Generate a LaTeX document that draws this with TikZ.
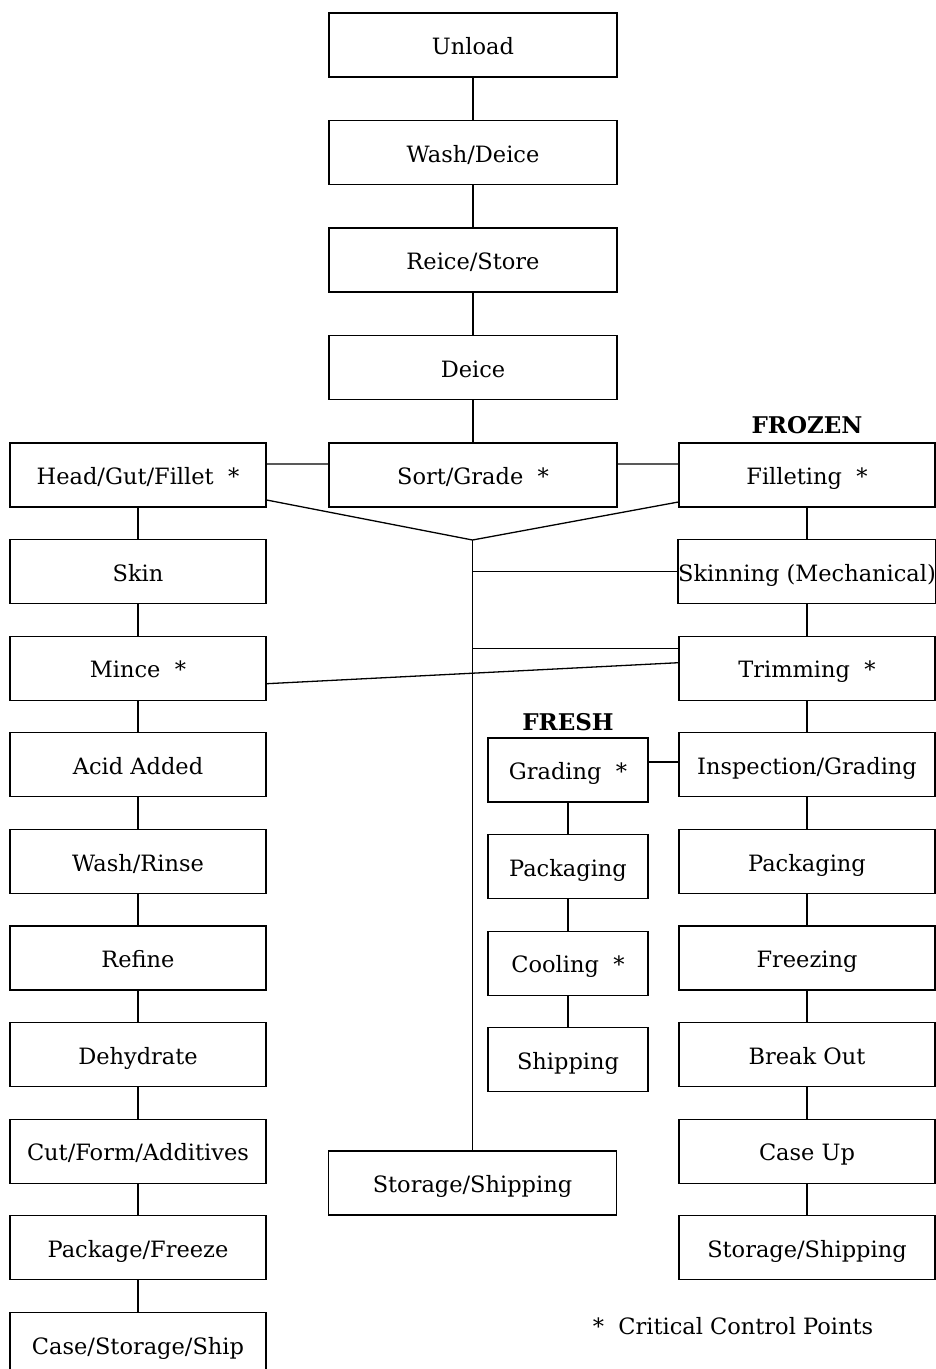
\documentclass[tikz,border=0pt]{standalone}
\usepackage{fontspec}
\setmainfont{DejaVu Serif}
\usetikzlibrary{positioning, calc}

\begin{document}
\begin{tikzpicture}[x=1pt, y=-1pt, node distance=31.3pt,
    font=\fontsize{22.5}{26}\selectfont,
    box/.style={draw, line width=1.3pt, minimum height=64pt, inner sep=0pt,
        text height=24pt, text depth=4.5pt},
    side/.style={box, minimum width=256pt},
    main/.style={box, minimum width=288pt},
    fresh/.style={box, minimum width=160pt},
    tag/.style={font=\fontsize{23}{26}\selectfont\bfseries},
    link/.style={line width=1.3pt}]
    \useasboundingbox (0,0) rectangle (936,1369);

    % Nodes (receiving)
    \node[main] (unload) at (473,45) {Unload};
    \node[main, below=42.2pt of unload] (wash) {Wash/Deice};
    \node[main, below=42.2pt of wash] (reice) {Reice/Store};
    \node[main, below=42.2pt of reice] (deice) {Deice};
    \node[main, below=42.2pt of deice] (sort) {Sort/Grade~~*};

    % Nodes (mince line)
    \node[side] (hgf) at (138,475) {Head/Gut/Fillet~~*};
    \node[side, below=of hgf] (skin) {Skin};
    \node[side, below=of skin] (mince) {Mince~~*};
    \node[side, below=of mince] (acid) {Acid Added};
    \node[side, below=of acid] (rinse) {Wash/Rinse};
    \node[side, below=of rinse] (refine) {Refine};
    \node[side, below=of refine] (dehyd) {Dehydrate};
    \node[side, below=of dehyd] (cut) {Cut/Form/Additives};
    \node[side, below=of cut] (packfrz) {Package/Freeze};
    \node[side, below=of packfrz] (caseship) {Case/Storage/Ship};

    % Nodes (frozen line)
    \node[side] (fillet) at (807,475) {Filleting~~*};
    \node[side, below=of fillet] (skinning) {Skinning (Mechanical)};
    \node[side, below=of skinning] (trim) {Trimming~~*};
    \node[side, below=of trim] (insp) {Inspection/Grading};
    \node[side, below=of insp] (packfz) {Packaging};
    \node[side, below=of packfz] (freeze) {Freezing};
    \node[side, below=of freeze] (breakout) {Break Out};
    \node[side, below=of breakout] (caseup) {Case Up};
    \node[side, below=of caseup] (storefz) {Storage/Shipping};
    \node[tag, above=5pt of fillet] (frozen) {FROZEN};

    % Nodes (fresh line)
    \node[fresh] (grading) at (568,770) {Grading~~*};
    \node[fresh, below=of grading] (packfr) {Packaging};
    \node[fresh, below=of packfr] (cooling) {Cooling~~*};
    \node[fresh, below=of cooling] (shipfr) {Shipping};
    \node[tag, above=3pt of grading] (freshlbl) {FRESH};

    \node[main] (store) at (472.5,1183) {Storage/Shipping};
    \node (ccp) at (733,1326) {*~~Critical Control Points};

    % Paths
    \draw[link] (unload) -- (wash) -- (reice) -- (deice) -- (sort);
    \draw[link] (hgf) -- (skin) -- (mince) -- (acid) -- (rinse) -- (refine)
        -- (dehyd) -- (cut) -- (packfrz) -- (caseship);
    \draw[link] (fillet) -- (skinning) -- (trim) -- (insp) -- (packfz)
        -- (freeze) -- (breakout) -- (caseup) -- (storefz);
    \draw[link] (grading) -- (packfr) -- (cooling) -- (shipfr);

    \draw[link] ([yshift=11pt]hgf.east) -- ([yshift=11pt]sort.west);
    \draw[link] ([yshift=11pt]sort.east) -- ([yshift=11pt]fillet.west);
    \coordinate (merge) at (472.5,540);
    \draw[link] ([yshift=-25pt]hgf.east) -- (merge) -- ([yshift=-27pt]fillet.west);
    \draw[link] (merge) -- (store.north);
    \draw[link] (skinning.west) -- (skinning.west -| merge);
    \draw[link] ([yshift=19.5pt]trim.west) -- ([yshift=19.5pt]trim.west -| merge);
    \draw[link] ([yshift=-15.5pt]mince.east) -- ([yshift=5.5pt]trim.west);
    \draw[link] ([yshift=8pt]grading.east) -- ([yshift=8pt]grading.east -| insp.west);
\end{tikzpicture}
\end{document}
